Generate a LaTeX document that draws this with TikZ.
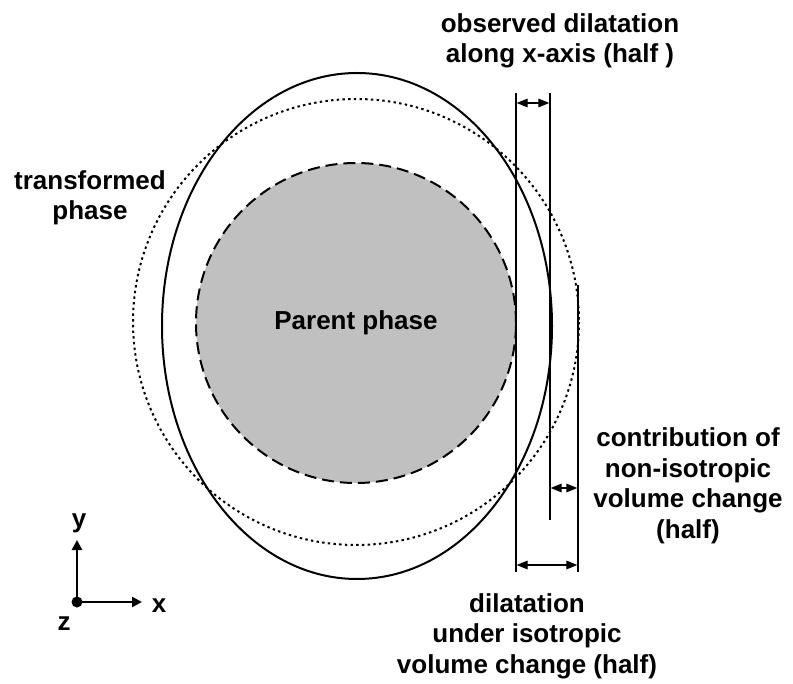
\documentclass[tikz,border=0pt]{standalone}
\usepackage{fontspec}
\setmainfont{Liberation Sans}
\usetikzlibrary{arrows.meta}
\definecolor{parentgray}{HTML}{C0C0C0}
\begin{document}
\begin{tikzpicture}[x=1pt,y=-1pt,
  txt/.style={font=\fontsize{26}{30.5}\selectfont\bfseries, align=center, inner sep=0pt},
  lbl/.style={txt, anchor=base},
  dimline/.style={line width=1.3pt},
  dimarrow/.style={line width=1.2pt, {Triangle[length=11pt,width=8.5pt]}-{Triangle[length=11pt,width=8.5pt]}},
  axisarrow/.style={line width=2.6pt, -{Triangle[length=10pt,width=10pt]}},
]
\useasboundingbox (0,0) rectangle (793,684);

% transformed phase (dotted circle)
\draw[line width=2pt, dash pattern=on 2.4pt off 3.3pt] (356,322) circle[radius=223];
% observed shape (solid ellipse)
\draw[line width=2pt] (357,326) ellipse[x radius=195, y radius=253];
% parent phase
\node[txt, circle, minimum size=320pt, draw, fill=parentgray, line width=2pt,
      dash pattern=on 12pt off 6pt] (parent) at (356,323) {Parent phase};

% vertical reference lines
\coordinate (a1) at (516,93);  \coordinate (a2) at (516,572);
\coordinate (b1) at (550,93);  \coordinate (b2) at (550,520);
\coordinate (c1) at (578,285); \coordinate (c2) at (578,572);
\draw[dimline] (a1) -- (a2);
\draw[dimline] (b1) -- (b2);
\draw[dimline] (c1) -- (c2);

% dimension arrows
\coordinate (ta) at (516.6,103); \coordinate (tb) at (549.4,103);
\coordinate (ra) at (550.6,488); \coordinate (rb) at (577.4,488);
\coordinate (ba) at (516.6,565); \coordinate (bb) at (577.4,565);
\draw[dimarrow] (ta) -- (tb);
\draw[dimarrow] (ra) -- (rb);
\draw[dimarrow] (ba) -- (bb);

% labels (base anchor = baseline of the last line)
\node[lbl] (obs) at (560,63) {observed dilatation\\along x-axis (half )};
\node[lbl] (trans) at (90,220) {transformed\\phase};
\node[lbl] (contr) at (688,538) {contribution of\\non-isotropic\\volume change\\(half)};
\node[lbl] (iso) at (527,673) {dilatation\\under isotropic\\volume change (half)};

% axes
\coordinate (o) at (77,602);
\coordinate (yt) at (77,540);
\coordinate (xt) at (142,602);
\draw[axisarrow] (o) -- (yt);
\draw[axisarrow] (o) -- (xt);
\fill (o) circle[radius=5.5];
\node[lbl] (ylab) at (79,527) {y};
\node[lbl] (xlab) at (159,612) {x};
\node[lbl] (zlab) at (64,630) {z};
\end{tikzpicture}
\end{document}
